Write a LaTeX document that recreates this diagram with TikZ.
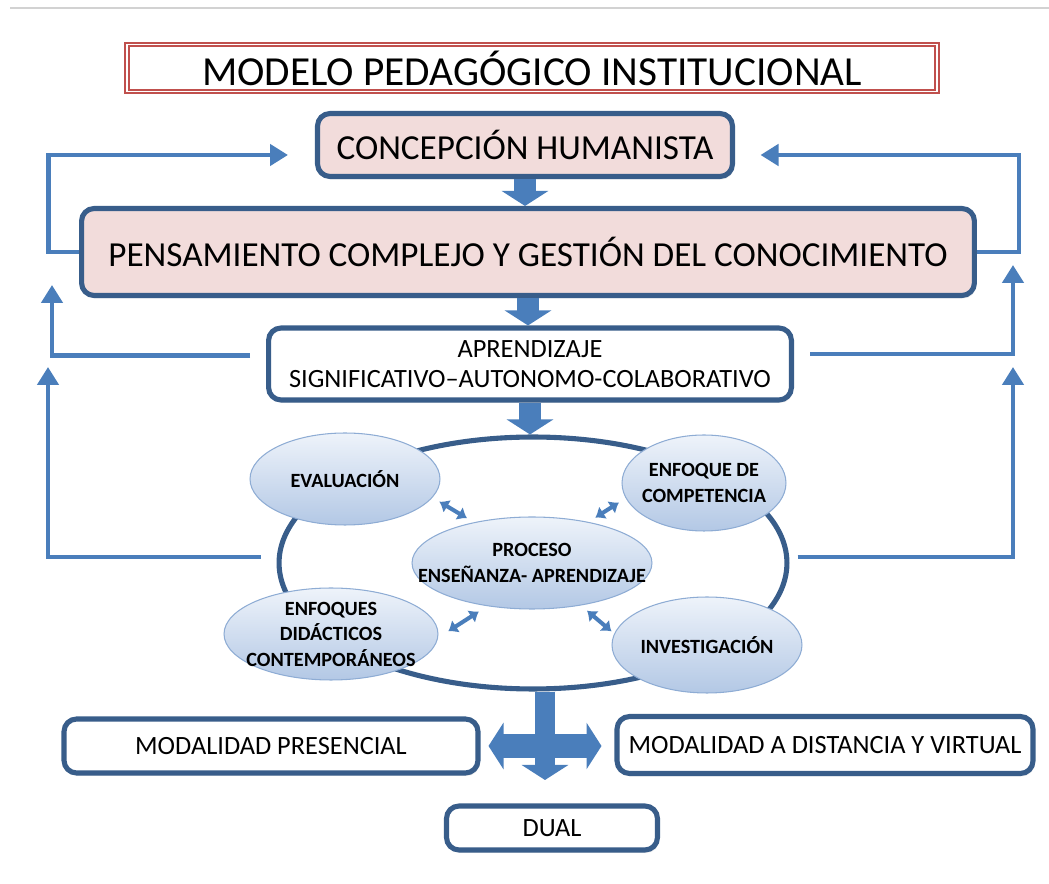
\documentclass[tikz,border=0pt]{standalone}
\usepackage{fontspec}
\setmainfont{Carlito}
\usetikzlibrary{arrows.meta,shapes.geometric,shadows}

\definecolor{boxline}{HTML}{385D8A}
\definecolor{linkblue}{HTML}{4A7EBB}
\definecolor{pinkfill}{HTML}{F2DCDB}
\definecolor{titlered}{HTML}{C0504D}
\definecolor{ovaltop}{HTML}{EEF3FA}
\definecolor{ovalbottom}{HTML}{B3C8E5}
\definecolor{ovalline}{HTML}{8EACD4}

\tikzset{
  titlebox/.style={draw=titlered, line width=1pt, double=white, double distance=1pt,
    minimum width=16.2cm, minimum height=0.94cm, font=\fontsize{23.5}{26}\selectfont},
  mainbox/.style={draw=boxline, line width=2.9pt, rounded corners=0.25cm, fill=pinkfill,
    font=\fontsize{20}{24}\selectfont,
    drop shadow={opacity=0.15, shadow xshift=0.03cm, shadow yshift=-0.06cm}},
  plainbox/.style={draw=boxline, line width=2.9pt, rounded corners=0.25cm, fill=white,
    align=center, font=\fontsize{15}{17}\selectfont,
    drop shadow={opacity=0.15, shadow xshift=0.03cm, shadow yshift=-0.06cm}},
  oval/.style={ellipse, draw=ovalline, line width=0.6pt, top color=ovaltop, bottom color=ovalbottom,
    align=center, inner xsep=-1cm, inner ysep=-0.4cm, font=\bfseries\fontsize{11.5}{14.5}\selectfont},
  ring/.style={ellipse, draw=boxline, line width=2.9pt, minimum width=10.16cm, minimum height=5.04cm},
  link/.style={draw=linkblue, line width=2.8pt, -{Triangle[width=0.42cm,length=0.36cm]}},
  fatarrow/.style={draw=linkblue, line width=0.44cm, -{Triangle[width=0.92cm,length=0.3cm]}},
  fatboth/.style={draw=linkblue, line width=0.48cm,
    {Triangle[width=0.92cm,length=0.3cm]}-{Triangle[width=0.92cm,length=0.3cm]}},
  twoway/.style={draw=linkblue, line width=2.3pt,
    {Latex[length=0.18cm,width=0.3cm]}-{Latex[length=0.18cm,width=0.3cm]}}
}

\begin{document}
\begin{tikzpicture}[x=0.02cm, y=-0.02cm]

    \useasboundingbox (0,0) rectangle (1049,884);
    \draw[gray!35, line width=0.6pt] (10,8) -- (1049,8);

    % Title and top boxes
    \node[titlebox] (title) at (532,68) {MODELO PEDAGÓGICO INSTITUCIONAL};
    \node[mainbox, minimum width=8.3cm, minimum height=1.26cm] (concep) at (525,145) {CONCEPCIÓN HUMANISTA};
    \node[mainbox, minimum width=17.86cm, minimum height=1.74cm] (pens) at (528,252) {PENSAMIENTO COMPLEJO Y GESTIÓN DEL CONOCIMIENTO};
    \node[plainbox, minimum width=10.46cm, minimum height=1.44cm] (apren) at (530,364) {APRENDIZAJE\\SIGNIFICATIVO--AUTONOMO-COLABORATIVO};

    % Ring of the teaching process
    \node[ring] (ring) at (533,563) {};
    \node[oval, minimum width=3.8cm, minimum height=1.84cm] (eval) at (345,479) {EVALUACIÓN};
    \node[oval, minimum width=3.28cm, minimum height=1.92cm] (comp) at (704,483) {ENFOQUE DE\\COMPETENCIA};
    \node[oval, minimum width=4.8cm, minimum height=1.84cm] (proc) at (532,563) {PROCESO\\ENSEÑANZA- APRENDIZAJE};
    \node[oval, minimum width=4.28cm, minimum height=1.84cm] (didac) at (331,634) {ENFOQUES\\DIDÁCTICOS\\CONTEMPORÁNEOS};
    \node[oval, minimum width=3.8cm, minimum height=1.92cm] (invest) at (707,645) {INVESTIGACIÓN};

    % Modalities
    \node[plainbox, minimum width=8.28cm, minimum height=1.08cm] (pres) at (271,746) {MODALIDAD PRESENCIAL};
    \node[plainbox, minimum width=8.32cm, minimum height=1.14cm] (dist) at (825,745) {MODALIDAD A DISTANCIA Y VIRTUAL};
    \node[plainbox, minimum width=4.22cm, minimum height=0.88cm] (dual) at (552,828) {DUAL};

    % Block arrows down the middle
    \draw[fatarrow] (concep.south) -- (concep.south |- pens.north);
    \draw[fatarrow] (pens.south) -- (pens.south |- apren.north);
    \draw[fatarrow] (apren.south) -- (apren.south |- ring.north);
    \coordinate (drop) at (545,780);
    \draw[fatarrow, line width=0.4cm] (ring.south -| drop) -- (drop);
    \draw[fatboth, shorten <=0.16cm, shorten >=0.26cm] (pres.east) -- (pres.east -| dist.west);

    % Feedback lines, left
    \draw[link, shorten >=0.54cm] (pens.west) -- ++(-31,0) |- ([yshift=-0.2cm]concep.west);
    \coordinate (lup1) at (52,285);
    \draw[link, shorten <=0.32cm] ([yshift=0.17cm]apren.west) -| (lup1);
    \coordinate (lup2) at (48,367);
    \draw[link, shorten <=0.32cm] ([yshift=0.12cm]ring.west) -| (lup2);

    % Feedback lines, right
    \draw[link, shorten >=0.51cm] (pens.east) -- ++(42,0) |- ([yshift=-0.2cm]concep.east);
    \coordinate (rup1) at (1013,265);
    \draw[link, shorten <=0.33cm] ([yshift=0.2cm]apren.east) -| (rup1);
    \coordinate (rup2) at (1013,367);
    \draw[link, shorten <=0.16cm] ([yshift=0.12cm]ring.east) -| (rup2);

    % Two-way arrows round the centre
    \draw[twoway, shorten <=0.16cm, shorten >=0.16cm] (eval.-12) -- (proc.145);
    \draw[twoway, shorten <=0.16cm, shorten >=0.16cm] (comp.191) -- (proc.36);
    \draw[twoway, shorten <=0.24cm, shorten >=0.2cm] (didac.-2) -- (proc.224);
    \draw[twoway, shorten <=0.07cm, shorten >=0.16cm] (invest.173) -- (proc.-41);

\end{tikzpicture}
\end{document}
